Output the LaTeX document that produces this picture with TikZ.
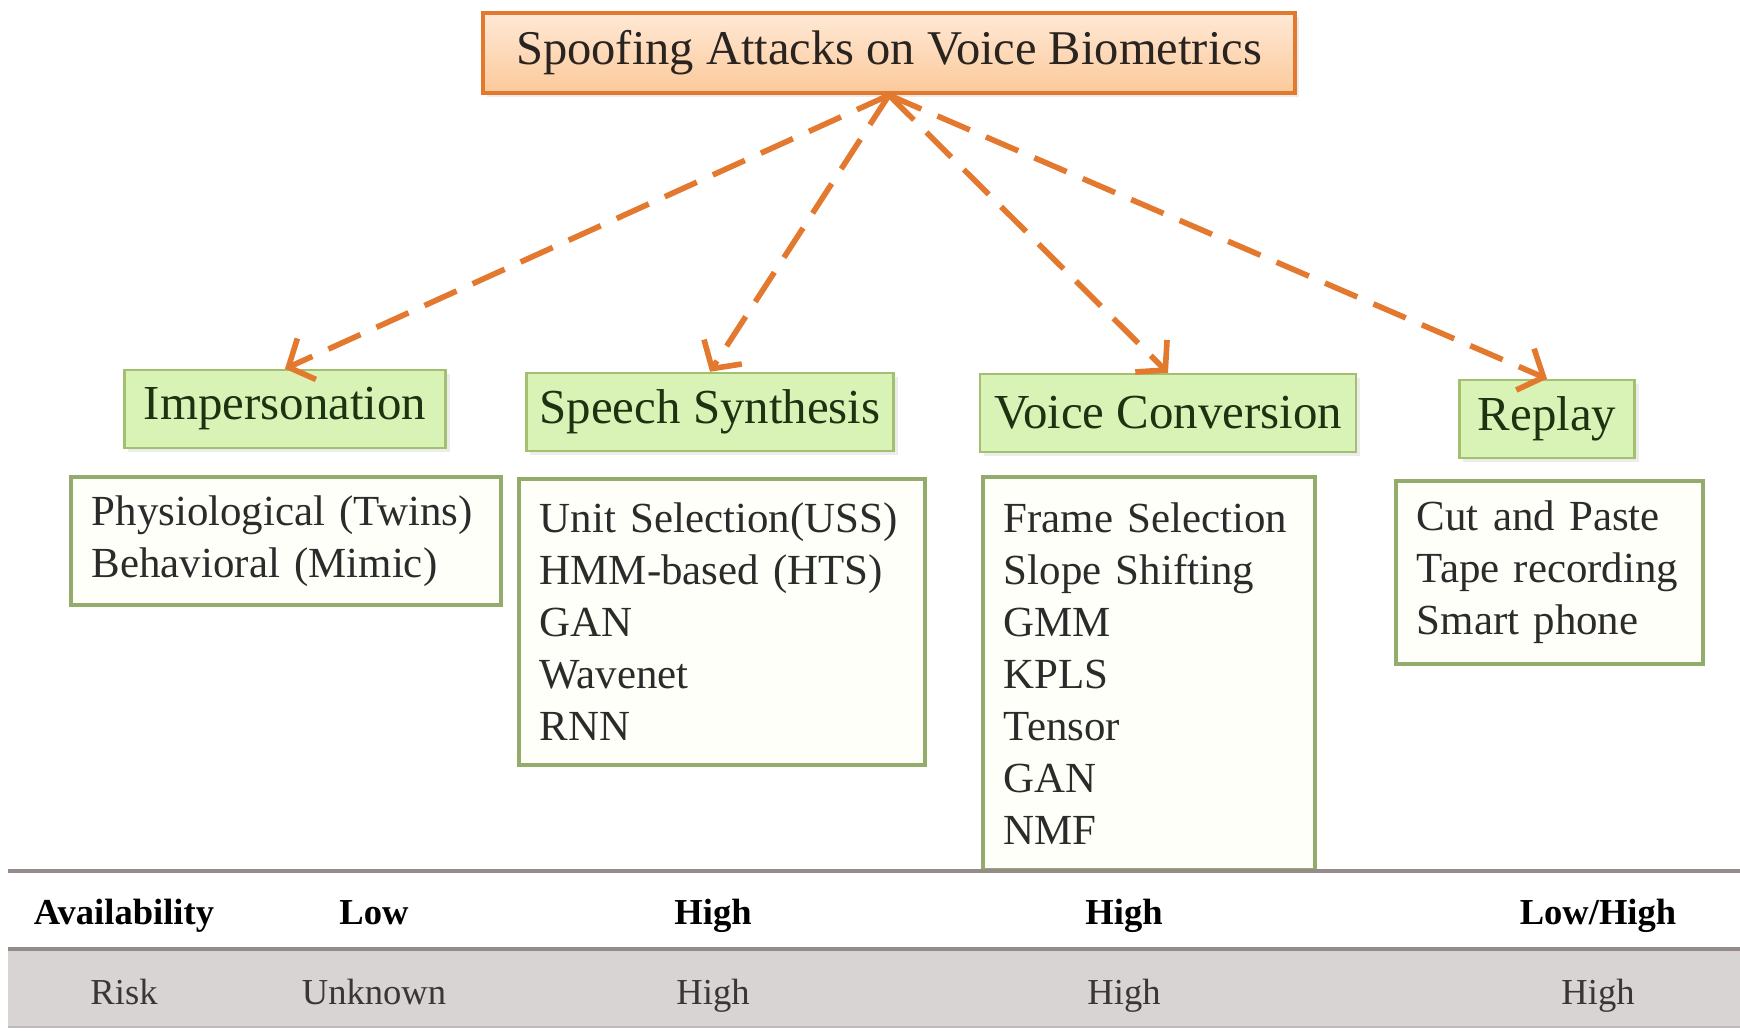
\documentclass[tikz,border=0pt]{standalone}
\usepackage{fontspec}
\setmainfont{Liberation Serif}
\usetikzlibrary{arrows.meta, positioning, shadows}

\definecolor{spoofOrange}{HTML}{E3782F}
\definecolor{peachTop}{HTML}{FFE9D6}
\definecolor{peachBot}{HTML}{FBC99A}
\definecolor{titleText}{HTML}{2A2420}
\definecolor{headBorder}{HTML}{A3BF70}
\definecolor{headFill}{HTML}{D9F2B5}
\definecolor{headText}{HTML}{1C3311}
\definecolor{listBorder}{HTML}{93AC6C}
\definecolor{listFill}{HTML}{FFFFF9}
\definecolor{listText}{HTML}{2B2B2B}
\definecolor{rowGray}{HTML}{D9D4D4}
\definecolor{rowLine}{HTML}{968B8B}
\definecolor{rowText}{HTML}{3A3636}

\begin{document}
\begin{tikzpicture}[
  x=0.01cm, y=-0.01cm,
  title/.style={draw=spoofOrange, line width=1.2pt, top color=peachTop, bottom color=peachBot,
    drop shadow={opacity=0.15, shadow xshift=0.04cm, shadow yshift=-0.04cm},
    minimum width=8.12cm, minimum height=0.8cm,
    font=\fontsize{13.8}{16}\selectfont, text=titleText},
  attack/.style={draw=headBorder, line width=0.7pt, fill=headFill,
    drop shadow={opacity=0.15, shadow xshift=0.04cm, shadow yshift=-0.04cm},
    minimum height=0.78cm, font=\fontsize{13.9}{16}\selectfont, text=headText},
  method/.style={draw=listBorder, line width=1pt, fill=listFill, anchor=north west, align=left,
    inner xsep=0.21cm, font=\fontsize{12.2}{14.8}\selectfont, text=listText},
  edge/.style={-{Straight Barb[length=2mm, width=4.5mm]}, line width=1.6pt, draw=spoofOrange,
    dash pattern=on 10pt off 5pt},
  tabhead/.style={anchor=base, font=\bfseries\fontsize{10.4}{12}\selectfont},
  tabrow/.style={anchor=base, font=\fontsize{10.4}{12}\selectfont, text=rowText}
]
\useasboundingbox (0,0) rectangle (1740,1030);

\node[title] (top) at (889,53) {Spoofing Attacks on Voice Biometrics};

\node[attack, minimum width=3.21cm] (imp) at (285,409) {Impersonation};
\node[attack, minimum width=3.67cm] (syn) at (710,412) {Speech Synthesis};
\node[attack, minimum width=3.76cm] (conv) at (1168,413) {Voice Conversion};
\node[attack, minimum width=1.75cm] (rep) at (1547,419) {Replay};

\node[method, minimum width=4.30cm, minimum height=1.28cm, text width=3.88cm] (impl) at (69,475)
  {Physiological (Twins)\\Behavioral (Mimic)};
\node[method, minimum width=4.06cm, minimum height=2.86cm, text width=3.64cm] (synl) at (517,477)
  {Unit Selection(USS)\\HMM-based (HTS)\\GAN\\Wavenet\\RNN};
\node[method, minimum width=3.32cm, minimum height=3.93cm, text width=2.90cm] (convl) at (981,475)
  {Frame Selection\\Slope Shifting\\GMM\\KPLS\\Tensor\\GAN\\NMF};
\node[method, minimum width=3.07cm, minimum height=1.83cm, text width=2.65cm] (repl) at (1394,479)
  {Cut and Paste\\Tape recording\\Smart phone};

\draw[edge] (top.south) -- (imp.north);
\draw[edge] (top.south) -- (syn.north);
\draw[edge] (top.south) -- (conv.north);
\draw[edge] (top.south) -- (rep.north);

\fill[rowGray] (8,950) rectangle (1740,1027);
\draw[rowLine, line width=1.1pt] (8,871) -- (1740,871);
\draw[rowLine, line width=1.1pt] (8,949) -- (1740,949);
\draw[rowLine!60, line width=0.8pt] (8,1027) -- (1740,1027);

\node[tabhead] (avail) at (124,924) {Availability};
\node[tabhead] (avimp) at (374,924) {Low};
\node[tabhead] (avsyn) at (713,924) {High};
\node[tabhead] (avconv) at (1124,924) {High};
\node[tabhead] (avrep) at (1598,924) {Low/High};

\node[tabrow] (risk) at (124,1004) {Risk};
\node[tabrow] (riskimp) at (374,1004) {Unknown};
\node[tabrow] (risksyn) at (713,1004) {High};
\node[tabrow] (riskconv) at (1124,1004) {High};
\node[tabrow] (riskrep) at (1598,1004) {High};
\end{tikzpicture}
\end{document}
